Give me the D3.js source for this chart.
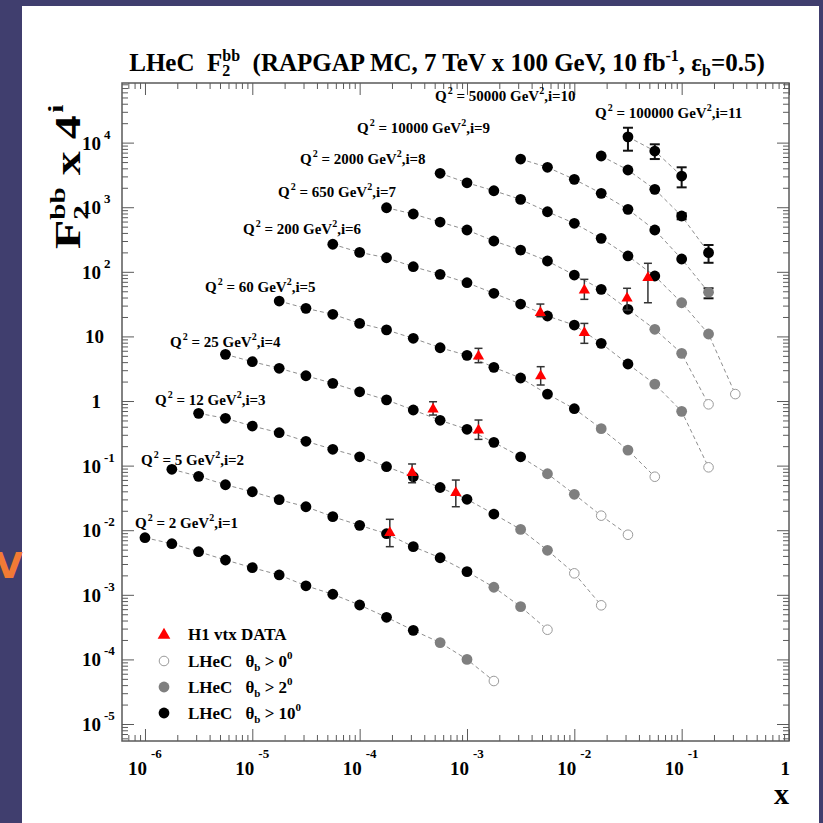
<!DOCTYPE html>
<html><head><meta charset="utf-8">
<script src="https://cdn.jsdelivr.net/npm/d3@7"></script>
<style>
body{margin:0;background:#403e6e;}
svg text{font-family:"Liberation Serif","Times New Roman",serif;font-weight:bold;white-space:pre;}
</style>
</head><body><svg id="c" width="823" height="823"></svg>
<script>
// ---------------- DATA ----------------
const xGrid = [1e-6,1.78e-6,3.16e-6,5.62e-6,1e-5,1.78e-5,3.16e-5,5.62e-5,1e-4,1.78e-4,3.16e-4,5.62e-4,
               1e-3,1.78e-3,3.16e-3,5.62e-3,1e-2,1.78e-2,3.16e-2,5.62e-2,0.1,0.178,0.316];
const seriesQ2 = [2,5,12,25,60,200,650,2000,10000,50000,100000];
const seriesI = [1,2,3,4,5,6,7,8,9,10,11];
const seriesStart = [0,1,2,3,5,7,9,11,14,17,18];
const seriesValues = [
  [7.66e-3,6.18e-3,4.65e-3,3.46e-3,2.63e-3,2.03e-3,1.38e-3,1.02e-3,6.95e-4,4.49e-4,2.82e-4,1.82e-4,1.00e-4,4.63e-5],
  [8.77e-2,6.83e-2,5.06e-2,3.94e-2,2.97e-2,2.31e-2,1.62e-2,1.19e-2,8.83e-3,5.56e-3,3.75e-3,2.28e-3,1.31e-3,6.55e-4,2.88e-4],
  [0.645,0.540,0.410,0.323,0.238,0.179,0.137,0.0962,0.0673,0.0458,0.0301,0.0178,0.0103,4.89e-3,2.15e-3,6.88e-4],
  [5.28,4.06,3.21,2.46,1.88,1.39,1.04,0.726,0.503,0.365,0.229,0.137,0.0749,0.0360,0.0168,8.51e-3],
  [35.3,27.2,22.0,15.9,12.6,9.35,6.68,5.10,3.32,2.27,1.28,0.760,0.373,0.174,0.0673],
  [267,200,165,120,91.4,67.8,46.5,31.7,20.7,15.0,7.82,3.74,1.83,0.693,0.0941],
  [982,785,590,444,300,217,147,89.2,53.6,26.3,12.9,5.47,0.889],
  [3350,2390,1800,1320,851,564,330,176,86.1,33.2,10.9,1.28],
  [5570,4150,2700,1640,927,444,158,48.2],
  [6210,3770,1890,731,198],
  [12300,7410,3040]
];
// b = LHeC theta_b>10, g = theta_b>2, o = theta_b>0
const seriesCut = [
  "bbbbbbbbbbbggo","bbbbbbbbbbbbggo","bbbbbbbbbbbbggoo","bbbbbbbbbbbbggoo","bbbbbbbbbbbbggo",
  "bbbbbbbbbbbbggo","bbbbbbbbbbggo","bbbbbbbbbggo","bbbbbbbg","bbbbb","bbb"
];
// MC statistical error bars (series number, x, low, high)
const mcErrSeries = [9,10,10,11,11,11];
const mcErrX = [0.178,0.1,0.178,0.0316,0.0562,0.1];
const mcErrLo = [38.9,650,138,7500,5570,2030];
const mcErrHi = [55.6,805,260,17000,9420,4150];
// H1 vtx data
const h1X  = [1.91e-4,3.08e-4,4.83e-4,7.87e-4,1.28e-3,1.28e-3,4.86e-3,4.83e-3,0.0124,0.0124,0.031,0.0485];
const h1Y  = [9.48e-3,0.0805,0.771,0.0394,0.365,5.10,2.53,24.1,53.6,11.8,40.3,84.0];
const h1Lo = [5.56e-3,0.0543,0.607,0.0231,0.255,3.92,1.77,20.2,37.5,7.82,25.6,33.2];
const h1Hi = [0.01475,0.106,0.975,0.0598,0.508,6.54,3.40,31.7,76.5,15.9,55.6,135.5];
// labels
const xTickExp = [-6,-5,-4,-3,-2,-1,0];
const yTickExp = [-5,-4,-3,-2,-1,0,1,2,3,4];
const legendCuts = ['0','2','10'];
const labelPos = [[135,528],[141,465],[155,405],[170,347],[205,292],[243,234],[278,197],[300,164],[357,133],[435,101],[595,118]];

// ---------------- DRAW ----------------
const svg = d3.select('#c');
svg.append('rect').attr('width',823).attr('height',823).attr('fill','#403e6e');
svg.append('rect').attr('x',22).attr('y',6).attr('width',797).attr('height',817).attr('fill','#fff');
svg.append('text').attr('x',-5).attr('y',578).text('V')
  .style('font-family','DejaVu Sans').style('font-size','36px').attr('fill','#f27a35');

const L=122,R=789,T=83,B=741;
const x = d3.scaleLog().domain([Math.pow(10,-6.214),1]).range([L,R]);
const y = d3.scaleLog().domain([Math.pow(10,-5.263),Math.pow(10,4.923)]).range([B,T]);

function rich(parent, parts, px, py, opt={}) {
  const g = parent.append('g');
  let cx=0, prevStart=0;
  parts.forEach(p=>{
    const t = g.append('text').text(p.t).attr('font-size',p.s).attr('y',p.dy||0)
      .attr('fill',opt.fill||'#000');
    const w = t.node().getComputedTextLength();
    const dx = p.dx||0;
    if (p.stack) { t.attr('x',prevStart+dx); cx=Math.max(cx,prevStart+dx+w); }
    else { prevStart = cx+dx; t.attr('x',prevStart); cx = prevStart+w; }
  });
  const a = opt.anchor||'start';
  const ox = a==='middle'? -cx/2 : a==='end' ? -cx : 0;
  g.attr('transform',`translate(${px},${py}) rotate(${opt.rotate||0}) scale(${opt.sx||1},1) translate(${ox},0)`);
  return g;
}

// axes ticks
const axG = svg.append('g');
const xMajor = d3.range(-6,1).map(e=>Math.pow(10,e));
const xMinor = [];
for (let e=-7;e<0;e++) for (let m=2;m<10;m++){const v=m*Math.pow(10,e); if(v>x.domain()[0]&&v<1) xMinor.push(v);}
const yMajor = d3.range(-5,5).map(e=>Math.pow(10,e));
const yMinor = [];
for (let e=-6;e<5;e++) for (let m=2;m<10;m++){const v=m*Math.pow(10,e); if(v>y.domain()[0]&&v<y.domain()[1]) yMinor.push(v);}

function styleAxis(g){ g.select('.domain').remove(); g.selectAll('line').attr('stroke','#5a5a5a').attr('stroke-width',1); g.selectAll('text').remove(); }
axG.append('g').attr('transform',`translate(0,${B})`).call(d3.axisTop(x).tickValues(xMajor).tickSize(12)).call(styleAxis);
axG.append('g').attr('transform',`translate(0,${B})`).call(d3.axisTop(x).tickValues(xMinor).tickSize(6)).call(styleAxis);
axG.append('g').attr('transform',`translate(0,${T})`).call(d3.axisBottom(x).tickValues(xMajor).tickSize(12)).call(styleAxis);
axG.append('g').attr('transform',`translate(0,${T})`).call(d3.axisBottom(x).tickValues(xMinor).tickSize(6)).call(styleAxis);
axG.append('g').attr('transform',`translate(${L},0)`).call(d3.axisRight(y).tickValues(yMajor).tickSize(12)).call(styleAxis);
axG.append('g').attr('transform',`translate(${L},0)`).call(d3.axisRight(y).tickValues(yMinor).tickSize(6)).call(styleAxis);
axG.append('g').attr('transform',`translate(${R},0)`).call(d3.axisLeft(y).tickValues(yMajor).tickSize(12)).call(styleAxis);
axG.append('g').attr('transform',`translate(${R},0)`).call(d3.axisLeft(y).tickValues(yMinor).tickSize(6)).call(styleAxis);
svg.append('rect').attr('x',L).attr('y',T).attr('width',R-L).attr('height',B-T)
  .attr('fill','none').attr('stroke','#5a5a5a').attr('stroke-width',1.5);

// tick labels
xTickExp.forEach(e=>{
  const px = x(Math.pow(10,e));
  if (e===0) rich(svg,[{t:'1',s:19}],px+1,775,{anchor:'end'});
  else rich(svg,[{t:'10',s:19},{t:String(e),s:13,dy:-17,dx:4}],px-17,775);
});
yTickExp.forEach(e=>{
  const py = y(Math.pow(10,e));
  if (e===0) rich(svg,[{t:'1',s:19}],101,py+7,{anchor:'end'});
  else if (e===1) rich(svg,[{t:'10',s:19}],104,py+7,{anchor:'end'});
  else rich(svg,[{t:'10',s:19},{t:String(e),s:13,dy:-11,dx:3}],82,py+7);
});

// titles
rich(svg,[{t:'LHeC  F',s:25},{t:'2',s:16,dy:5},{t:'bb',s:16,dy:-10,stack:true},
  {t:'  (RAPGAP MC, 7 TeV x 100 GeV, 10 fb',s:25},{t:'-1',s:16,dy:-10},{t:', ε',s:25},
  {t:'b',s:16,dy:5},{t:'=0.5)',s:25}],447,71,{anchor:'middle'});
rich(svg,[{t:'x',s:30}],789,804,{anchor:'end'});
rich(svg,[{t:'F',s:36},{t:'2',s:22,dy:8},{t:'bb',s:22,dy:-15,stack:true},{t:' x 4',s:36},{t:'i',s:22,dy:-17,dx:2}],
  80,249,{rotate:-90,sx:1.33});

// plot layer
const plot = svg.append('g');
const line = d3.line().x(d=>x(d.x)).y(d=>y(d.v));
const series = seriesQ2.map((q,si)=>seriesValues[si].map((v,j)=>({x:xGrid[seriesStart[si]+j],v,c:seriesCut[si][j]})));
series.forEach(pts=>{
  plot.append('path').attr('d',line(pts)).attr('fill','none').attr('stroke','#8e8e8e')
    .attr('stroke-width',1).attr('stroke-dasharray','4,3');
});
// MC error bars
mcErrSeries.forEach((s,k)=>{
  const px=x(mcErrX[k]), y1=y(mcErrHi[k]), y2=y(mcErrLo[k]);
  const g=plot.append('g').attr('stroke','#111').attr('stroke-width',2);
  g.append('line').attr('x1',px).attr('x2',px).attr('y1',y1).attr('y2',y2);
  g.append('line').attr('x1',px-5).attr('x2',px+5).attr('y1',y1).attr('y2',y1);
  g.append('line').attr('x1',px-5).attr('x2',px+5).attr('y1',y2).attr('y2',y2);
});
series.forEach(pts=>{
  plot.selectAll(null).data(pts).enter().append('circle')
    .attr('cx',d=>x(d.x)).attr('cy',d=>y(d.v)).attr('r',d=>d.c==='o'?4.8:5.4)
    .attr('fill',d=>d.c==='b'?'#000':d.c==='g'?'#7f7f7f':'#fff')
    .attr('stroke',d=>d.c==='o'?'#9a9a9a':'none').attr('stroke-width',1);
});
// H1 data
h1X.forEach((xv,k)=>{
  const px=x(xv), y1=y(h1Hi[k]), y2=y(h1Lo[k]);
  const g=plot.append('g').attr('stroke','#333').attr('stroke-width',1.5);
  g.append('line').attr('x1',px).attr('x2',px).attr('y1',y1).attr('y2',y2);
  g.append('line').attr('x1',px-4).attr('x2',px+4).attr('y1',y1).attr('y2',y1);
  g.append('line').attr('x1',px-4).attr('x2',px+4).attr('y1',y2).attr('y2',y2);
});
plot.selectAll(null).data(h1X).enter().append('path')
  .attr('d',d3.symbol(d3.symbolTriangle,55))
  .attr('transform',(d,k)=>`translate(${x(d)},${y(h1Y[k])+1})`).attr('fill','#f00');

// Q2 labels
seriesQ2.forEach((q,si)=>{
  rich(svg,[{t:'Q',s:15},{t:'2',s:10,dy:-7,dx:1},{t:' = '+q+' GeV',s:15},{t:'2',s:10,dy:-7},{t:',i='+seriesI[si],s:15}],
    labelPos[si][0],labelPos[si][1]);
});

// legend
const lg = svg.append('g');
const legY=[634,661,687,713];
lg.append('path').attr('d',d3.symbol(d3.symbolTriangle,70)).attr('transform',`translate(164,${legY[0]+1})`).attr('fill','#f00');
lg.append('circle').attr('cx',164).attr('cy',legY[1]).attr('r',4.8).attr('fill','#fff').attr('stroke','#9a9a9a');
lg.append('circle').attr('cx',164).attr('cy',legY[2]).attr('r',5.4).attr('fill','#7f7f7f');
lg.append('circle').attr('cx',164).attr('cy',legY[3]).attr('r',5.4).attr('fill','#000');
rich(lg,[{t:'H1 vtx DATA',s:17}],188,legY[0]+6);
legendCuts.forEach((a,k)=>{
  rich(lg,[{t:'LHeC',s:17},{t:'θ',s:17,dx:13},{t:'b',s:11,dy:4},{t:' > '+a,s:17},{t:'0',s:11,dy:-8}],188,legY[k+1]+6);
});
</script></body></html>
